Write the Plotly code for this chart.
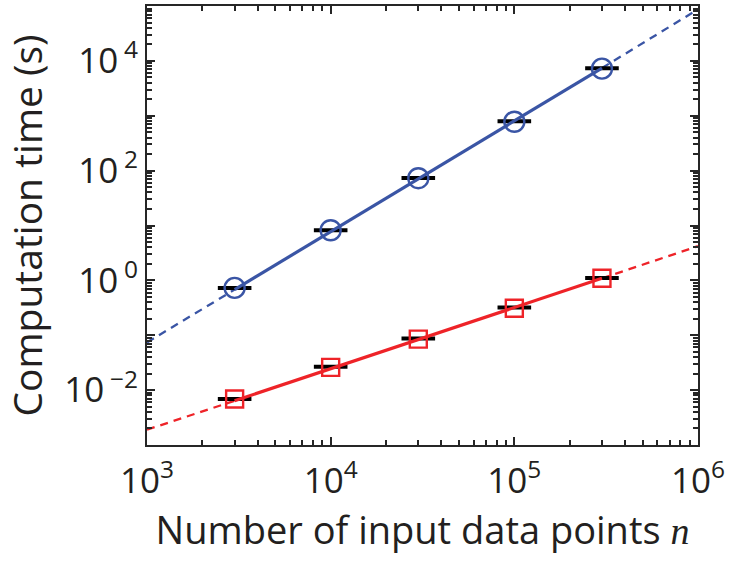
import plotly.graph_objects as go

# ---- data ----
n_points = [3000, 10000, 30000, 100000, 300000]
blue_time = [0.73, 8.2, 72.8, 778, 7215]
blue_bar = [0.73, 8.2, 73.5, 795, 7330]
red_time = [0.0069, 0.026, 0.085, 0.31, 1.09]
red_bar = [0.0069, 0.0268, 0.087, 0.32, 1.11]

fit_n = [1e3, 3e3, 3e5, 1e6]
blue_fit = [0.074, 0.68, 7400, 87000]
red_fit = [0.0019, 0.0064, 1.09, 4.2]

x_tickvals = [1e3, 1e4, 1e5, 1e6]
x_ticktext = ["10<sup>3</sup>", "10<sup>4</sup>", "10<sup>5</sup>", "10<sup>6</sup>"]
y_tickvals = [1e-2, 1e0, 1e2, 1e4]
y_ticktext = ["10\u2009<sup>\u22122</sup>", "10\u2009<sup>0</sup>", "10\u2009<sup>2</sup>", "10\u2009<sup>4</sup>"]
y_unlabeled_ticks = [1e-3, 1e-1, 1e1, 1e3, 1e5]

BLUE = "#3A55A5"
RED = "#EE2328"
AX = "#262626"
TXT = "#231F20"
FONT = "Open Sans"

def minor_vals(lo, hi):
    vals = []
    for e in range(lo, hi):
        for m in range(2, 10):
            vals.append(m * 10 ** e)
    return vals

fig = go.Figure()

def dashed(x, y):
    return [x[0], x[1], None, x[2], x[3]], [y[0], y[1], None, y[2], y[3]]

for col, fit in ((BLUE, blue_fit), (RED, red_fit)):
    dx, dy = dashed(fit_n, fit)
    fig.add_trace(go.Scatter(x=dx, y=dy, mode="lines", connectgaps=False,
                             line=dict(color=col, width=2.3, dash="8px,6px"),
                             showlegend=False, hoverinfo="skip"))

for bars in (blue_bar, red_bar):
    fig.add_trace(go.Scatter(x=n_points, y=bars, mode="markers",
                             marker=dict(symbol="line-ew", size=24,
                                         line=dict(color="black", width=4)),
                             showlegend=False))

for col, fit in ((BLUE, blue_fit), (RED, red_fit)):
    fig.add_trace(go.Scatter(x=fit_n[1:3], y=fit[1:3], mode="lines",
                             line=dict(color=col, width=3.2),
                             showlegend=False, hoverinfo="skip"))

fig.add_trace(go.Scatter(x=n_points, y=blue_time, mode="markers",
                         marker=dict(symbol="circle-open", size=20, color=BLUE,
                                     line=dict(color=BLUE, width=2.4)),
                         showlegend=False))
fig.add_trace(go.Scatter(x=n_points, y=red_time, mode="markers",
                         marker=dict(symbol="square-open", size=17, color=RED,
                                     line=dict(color=RED, width=2.4)),
                         showlegend=False))

# empty trace so the overlay axis (unlabelled decade ticks) is drawn
fig.add_trace(go.Scatter(x=[], y=[], yaxis="y2", showlegend=False, hoverinfo="skip"))

axis_common = dict(showline=True, linecolor=AX, linewidth=2, mirror="ticks",
                   ticks="inside", ticklen=8, tickwidth=1.5, tickcolor=AX,
                   showgrid=False, zeroline=False,
                   tickfont=dict(family=FONT, size=35, color=TXT))

fig.update_xaxes(type="log", range=[3, 6], tickmode="array",
                 tickvals=x_tickvals, ticktext=x_ticktext,
                 ticklabelstandoff=4,
                 minor=dict(tickmode="array", tickvals=minor_vals(3, 6),
                            ticks="inside", ticklen=5, tickwidth=1.5, tickcolor=AX),
                 title=dict(text="Number of input data points <span style=\"font-family:'Liberation Serif'\"><i>n</i></span>",
                            font=dict(family=FONT, size=38, color=TXT), standoff=15),
                 **axis_common)
fig.update_yaxes(type="log", range=[-3, 5], tickmode="array",
                 tickvals=y_tickvals, ticktext=y_ticktext,
                 minor=dict(tickmode="array", tickvals=minor_vals(-3, 5),
                            ticks="inside", ticklen=5, tickwidth=1.5, tickcolor=AX),
                 title=dict(text="Computation time (s)",
                            font=dict(family=FONT, size=39, color=TXT), standoff=10),
                 **axis_common)

fig.update_layout(
    yaxis2=dict(overlaying="y", side="left", type="log", range=[-3, 5],
                tickmode="array", tickvals=y_unlabeled_ticks, showticklabels=False,
                ticks="inside", ticklen=8, tickwidth=1.5, tickcolor=AX,
                showline=True, linecolor=AX, linewidth=2, mirror="ticks",
                showgrid=False, zeroline=False),
    width=729, height=574,
    margin=dict(l=147, r=30, t=4, b=129),
    paper_bgcolor="white", plot_bgcolor="white")

fig.write_html("out.html")
